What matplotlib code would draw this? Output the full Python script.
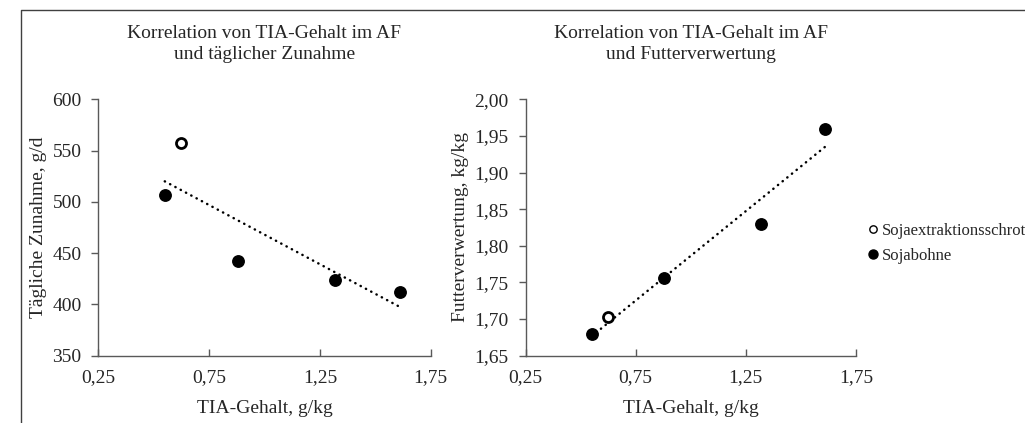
import numpy as np
import matplotlib
matplotlib.use("Agg")
import matplotlib.pyplot as plt
from matplotlib.lines import Line2D
from matplotlib.ticker import FuncFormatter, MultipleLocator

# TIA content of the feed (g/kg) per ration
tia_soja_extr = [0.625]
tia_sojabohne = [0.55, 0.88, 1.32, 1.61]

# Daily weight gain, g/d
zunahme_soja_extr = [557]
zunahme_sojabohne = [507, 442, 424, 412]

# Feed conversion, kg/kg
fv_soja_extr = [1.703]
fv_sojabohne = [1.679, 1.756, 1.830, 1.960]

x_ticks = [0.25, 0.75, 1.25, 1.75]
series_names = ["Sojaextraktionsschrot", "Sojabohne"]

plt.rcParams["font.family"] = ["Liberation Serif", "DejaVu Serif"]
FS = 14

W, H = 1025, 423
fig = plt.figure(figsize=(W / 100, H / 100), dpi=100)

AX_COL = "#595959"
TXT_COL = "#262626"


def px_axes(x0, y0, x1, y1):
    return fig.add_axes([x0 / W, 1 - y1 / H, (x1 - x0) / W, (y1 - y0) / H])


def comma(v, nd):
    return f"{v:.{nd}f}".replace(".", ",")


def style(ax, ylim, ystep, nd, title, ylabel):
    ax.set_xlim(0.25, 1.75)
    ax.set_ylim(*ylim)
    ax.set_xticks(x_ticks)
    ax.yaxis.set_major_locator(MultipleLocator(ystep))
    ax.xaxis.set_major_formatter(FuncFormatter(lambda v, p: comma(v, 2)))
    ax.yaxis.set_major_formatter(FuncFormatter(lambda v, p: comma(v, nd)))
    for s in ("top", "right"):
        ax.spines[s].set_visible(False)
    for s in ("left", "bottom"):
        ax.spines[s].set_color(AX_COL)
        ax.spines[s].set_linewidth(1.0)
    ax.tick_params(axis="x", direction="in", length=5, color=AX_COL, width=1.0,
                   labelsize=FS, labelcolor=TXT_COL, pad=10)
    ax.tick_params(axis="y", direction="out", length=5, color=AX_COL, width=1.0,
                   labelsize=FS, labelcolor=TXT_COL, pad=7)
    ax.set_xlabel("TIA-Gehalt, g/kg", fontsize=FS, color=TXT_COL, labelpad=10)
    ax.set_ylabel(ylabel, fontsize=FS, color=TXT_COL, labelpad=4)
    ax.set_title(title, fontsize=FS, color=TXT_COL, pad=29, linespacing=1.3)


def draw(ax, y_extr, y_bohne):
    xs = np.array(tia_soja_extr + tia_sojabohne)
    ys = np.array(y_extr + y_bohne)
    k, d = np.polyfit(xs, ys, 1)
    xl = np.array([xs.min(), xs.max()])
    ax.plot(xl, k * xl + d, color="black", lw=1.8, linestyle=(0, (0.1, 2.3)),
            dash_capstyle="round", zorder=2)
    ax.scatter(tia_sojabohne, y_bohne, s=68, color="black", zorder=3)
    ax.scatter(tia_soja_extr, y_extr, s=52, facecolor="white",
               edgecolor="black", linewidth=2.0, zorder=3)


ax1 = px_axes(98.3, 99.3, 430.7, 355.7)
style(ax1, (350, 600), 50, 0,
      "Korrelation von TIA-Gehalt im AF\nund täglicher Zunahme",
      "Tägliche Zunahme, g/d")
draw(ax1, zunahme_soja_extr, zunahme_sojabohne)

ax2 = px_axes(525.5, 99.3, 856, 355.7)
style(ax2, (1.65, 2.00), 0.05, 2,
      "Korrelation von TIA-Gehalt im AF\nund Futterverwertung",
      "Futterverwertung, kg/kg")
draw(ax2, fv_soja_extr, fv_sojabohne)

handles = [
    Line2D([], [], marker="o", ls="none", markersize=5.3, markerfacecolor="white",
           markeredgecolor="black", markeredgewidth=1.0),
    Line2D([], [], marker="o", ls="none", markersize=6.5, color="black"),
]
fig.legend(handles, series_names, loc="upper left",
           bbox_to_anchor=(865 / W, 1 - 223 / H), frameon=False,
           handletextpad=0.1, handlelength=0.9, labelspacing=0.55,
           borderpad=0, borderaxespad=0, fontsize=12, labelcolor=TXT_COL)

# outer frame of the figure block
fx = 21 / W
fy = 1 - 10 / H
fig.add_artist(Line2D([fx, fx, 1.0], [0.0, fy, fy], transform=fig.transFigure,
                      color="#404040", lw=1.0))

fig.savefig("out.png", dpi=100)
